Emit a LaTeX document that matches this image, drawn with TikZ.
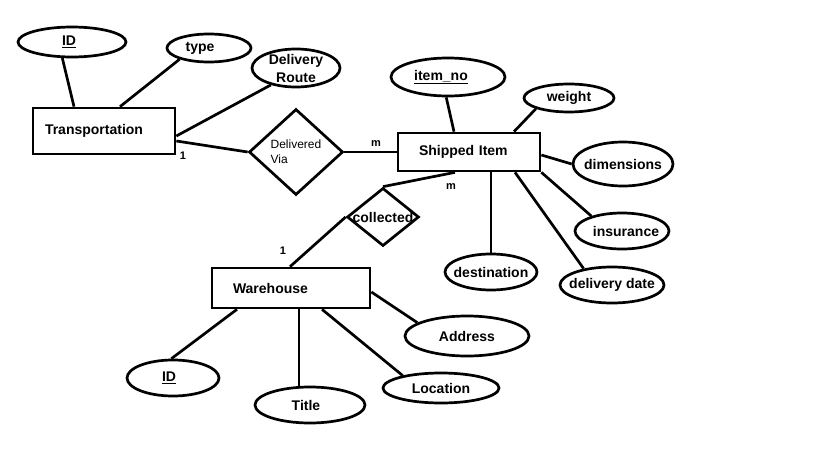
\documentclass[tikz,border=0pt]{standalone}
\usepackage{fontspec}
\setmainfont{Liberation Sans}
\usetikzlibrary{shapes,positioning}

\tikzset{
    entity/.style={draw, rectangle, line width=2.7pt, align=left,
        font=\fontsize{14}{17}\selectfont\bfseries},
    attrib/.style={draw, ellipse, line width=2.7pt, inner sep=0pt},
    attribtext/.style={font=\fontsize{14}{18}\selectfont\bfseries, align=center},
    relation/.style={draw, diamond, line width=2.7pt, inner sep=0pt},
    card/.style={font=\fontsize{11}{13}\selectfont\bfseries},
    link/.style={line width=2.7pt},
}

\begin{document}
\begin{tikzpicture}[x=1pt, y=-1pt]
                \useasboundingbox[fill=white] (0,0) rectangle (819,460);

                \node[entity, text width=118pt, inner xsep=12pt,
                    minimum height=46pt] (transport) at (104,131) {Transportation};
                \node[entity, text width=100pt, inner xsep=21pt,
                    minimum height=38pt] (shipped) at (469,152) {Shipped Item};
                \node[entity, text width=116pt, inner xsep=21pt,
                    minimum height=40pt] (warehouse) at (291,288) {Warehouse};

                \node[relation, minimum width=94pt, minimum height=86pt, align=left,
                    font=\fontsize{12}{15}\selectfont] (delvia) at (296,152) {Delivered\\Via};
                \node[relation, minimum width=72pt, minimum height=58pt,
                    label={[attribtext]center:collected}] (collect) at (383,217) {};

                \node[attrib, minimum width=108pt, minimum height=30pt,
                    label={[attribtext, xshift=-3pt]center:\underline{ID}}] (tid) at (72,42) {};
                \node[attrib, minimum width=84pt, minimum height=28pt,
                    label={[attribtext, xshift=-9pt]center:type}] (ttype) at (209,48) {};
                \node[attrib, minimum width=88pt, minimum height=38pt,
                    label={[attribtext]center:Delivery\\Route}] (troute) at (296,68) {};

                \node[attrib, minimum width=114pt, minimum height=38pt,
                    label={[attribtext, xshift=-7pt]center:\underline{item\_no}}] (sitem) at (448,77) {};
                \node[attrib, minimum width=90pt, minimum height=28pt,
                    label={[attribtext]center:weight}] (sweight) at (569,98) {};
                \node[attrib, minimum width=100pt, minimum height=44pt,
                    label={[attribtext]center:dimensions}] (sdim) at (623,164) {};
                \node[attrib, minimum width=94pt, minimum height=36pt,
                    label={[attribtext, xshift=4pt]center:insurance}] (sins) at (622,231) {};
                \node[attrib, minimum width=104pt, minimum height=36pt,
                    label={[attribtext]center:delivery date}] (sdate) at (612,285) {};
                \node[attrib, minimum width=92pt, minimum height=36pt,
                    label={[attribtext]center:destination}] (sdest) at (491,272) {};

                \node[attrib, minimum width=92pt, minimum height=36pt,
                    label={[attribtext, xshift=-4pt]center:\underline{ID}}] (wid) at (173,378) {};
                \node[attrib, minimum width=110pt, minimum height=36pt,
                    label={[attribtext, xshift=-4pt]center:Title}] (wtitle) at (310,405) {};
                \node[attrib, minimum width=116pt, minimum height=30pt,
                    label={[attribtext]center:Location}] (wloc) at (441,388) {};
                \node[attrib, minimum width=124pt, minimum height=40pt,
                    label={[attribtext]center:Address}] (waddr) at (467,336) {};

                \node[card] (card1) at (183,156) {1};
                \node[card] (card2) at (376,144) {m};
                \node[card] (card3) at (451,187) {m};
                \node[card] (card4) at (283,251) {1};

                \draw[link] (tid.-121) -- ([xshift=-30pt]transport.north);
                \draw[link] (ttype.-159) -- ([xshift=16pt]transport.north);
                \draw[link] (troute.-146) -- ([yshift=-5pt]transport.east);
                \draw[link] ([yshift=-10pt]transport.east) -- (delvia.west);
                \draw[link] (delvia.east) -- (shipped.west |- delvia.east);

                \draw[link] (sitem.-95) -- ([xshift=-15pt]shipped.north);
                \draw[link] (sweight.-162) -- ([xshift=45pt]shipped.north);
                \draw[link] (sdim.west) -- ([yshift=-3pt]shipped.east);
                \draw[link] (sins.154) -- (shipped.south east);
                \draw[link] (sdate.150) -- ([xshift=46pt]shipped.south);
                \draw[link] (sdest.north) -- (sdest.north |- shipped.south);

                \draw[link] ([xshift=-14pt]shipped.south) -- (collect.north);
                \draw[link] (collect.west) -- ([xshift=-1pt]warehouse.north);

                \draw[link] (wid.95) -- ([xshift=-54pt]warehouse.south);
                \draw[link] (wtitle.120) -- (wtitle.120 |- warehouse.south);
                \draw[link] (wloc.162) -- ([xshift=31pt]warehouse.south);
                \draw[link] (waddr.165) -- ([yshift=-4pt]warehouse.east);

            \end{tikzpicture}
\end{document}
